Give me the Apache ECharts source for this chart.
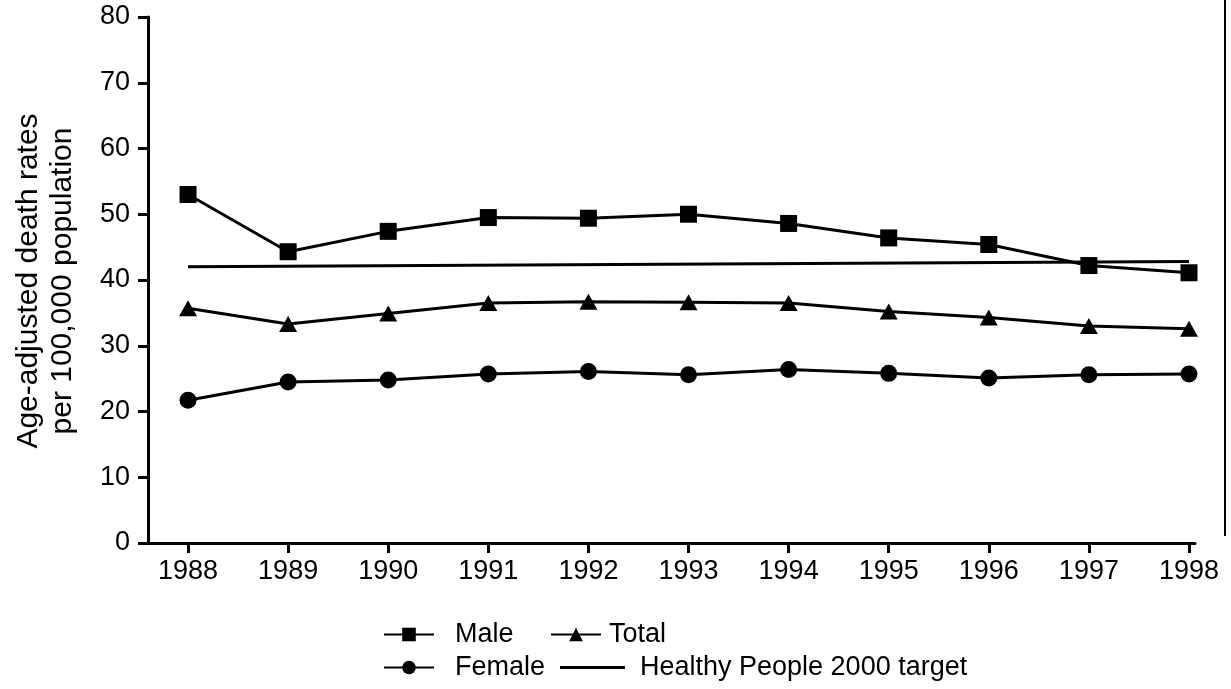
<!DOCTYPE html>
<html>
<head>
<meta charset="utf-8">
<script src="https://cdn.jsdelivr.net/npm/echarts@6/dist/echarts.min.js"></script>
<style>
  html, body { margin: 0; padding: 0; background: #fff; }
  #chart { width: 1231px; height: 689px; }
</style>
</head>
<body>
<div id="chart"></div>
<script>
// Age-adjusted death rates per 100,000 population, 1988–1998
const years = [1988, 1989, 1990, 1991, 1992, 1993, 1994, 1995, 1996, 1997, 1998];
const male = [53.0, 44.3, 47.4, 49.5, 49.4, 50.0, 48.6, 46.4, 45.4, 42.2, 41.1];
const total = [35.7, 33.3, 34.9, 36.5, 36.7, 36.6, 36.5, 35.2, 34.3, 33.0, 32.6];
const female = [21.7, 24.5, 24.8, 25.7, 26.1, 25.6, 26.4, 25.8, 25.1, 25.6, 25.7];
// Healthy People 2000 target line, drawn between its two ends
const targetYears = [1988, 1998];
const targetValues = [42.0, 42.8];
const yTicks = [0, 10, 20, 30, 40, 50, 60, 70, 80];

const FONT = 'Liberation Sans, Arial, Helvetica, sans-serif';
const pairs = (xs, ys) => xs.map((x, i) => [x, ys[i]]);

const chart = echarts.init(document.getElementById('chart'), null, { renderer: 'canvas' });

const lineStyle = { color: '#000', width: 3 };
const itemStyle = { color: '#000' };

// plain line icon for the target legend entry (tiny corner dots fix the icon box)
const targetIcon = 'path://M0 0h0.01v0.01h-0.01z M65 17h0.01v0.01h-0.01z M0 7h65v3h-65z';

function legendItem(name, left, top, width, gap, icon) {
  return {
    data: [icon ? { name, icon } : name],
    left, top, padding: 0,
    itemWidth: width, itemHeight: 17,
    textStyle: { fontSize: 27, color: '#000', fontFamily: FONT, padding: [0, 0, 0, gap] }
  };
}

chart.setOption({
  animation: false,
  backgroundColor: '#fff',
  textStyle: { fontFamily: FONT, color: '#000' },
  grid: { left: 148, right: 36, top: 17, bottom: 146, containLabel: false },
  xAxis: {
    type: 'value',
    min: 1987.6,
    max: 1998.06,
    axisLine: { show: true, lineStyle: { color: '#000', width: 3 } },
    axisTick: { show: true, customValues: years, length: 10, lineStyle: { color: '#000', width: 3 } },
    axisLabel: {
      customValues: years,
      formatter: v => String(Math.round(v)),
      fontSize: 27, color: '#000', fontFamily: FONT, margin: 15
    },
    splitLine: { show: false }
  },
  yAxis: {
    type: 'value',
    min: 0, max: 80, interval: 10,
    axisLine: { show: true, lineStyle: { color: '#000', width: 3 } },
    axisTick: { show: true, length: 10, lineStyle: { color: '#000', width: 3 } },
    axisLabel: {
      customValues: yTicks,
      fontSize: 27, color: '#000', fontFamily: FONT, margin: 18
    },
    splitLine: { show: false }
  },
  legend: [
    legendItem('Male', 383, 621, 50, 16),
    legendItem('Total', 550, 621, 50, 3),
    legendItem('Female', 383, 654, 50, 16),
    legendItem('Healthy People 2000 target', 560, 654, 65, 10, targetIcon)
  ],
  graphic: [
    {
      type: 'text',
      x: 46, y: 281,
      rotation: Math.PI / 2,
      style: {
        text: 'Age-adjusted death rates\nper 100,000 population',
        fontSize: 30, fontFamily: FONT, fill: '#000',
        align: 'center', verticalAlign: 'middle', lineHeight: 34
      }
    },
    {
      type: 'line',
      shape: { x1: 1225, y1: 0, x2: 1225, y2: 536 },
      style: { stroke: '#000', lineWidth: 2 }
    }
  ],
  series: [
    {
      name: 'Male', type: 'line',
      data: pairs(years, male),
      symbol: 'rect', symbolSize: 17,
      lineStyle, itemStyle
    },
    {
      name: 'Total', type: 'line',
      data: pairs(years, total),
      symbol: 'triangle', symbolSize: [18, 16],
      lineStyle, itemStyle
    },
    {
      name: 'Female', type: 'line',
      data: pairs(years, female),
      symbol: 'circle', symbolSize: 17,
      lineStyle, itemStyle
    },
    {
      name: 'Healthy People 2000 target', type: 'line',
      data: pairs(targetYears, targetValues),
      symbol: 'none',
      lineStyle, itemStyle
    }
  ]
});
</script>
</body>
</html>
